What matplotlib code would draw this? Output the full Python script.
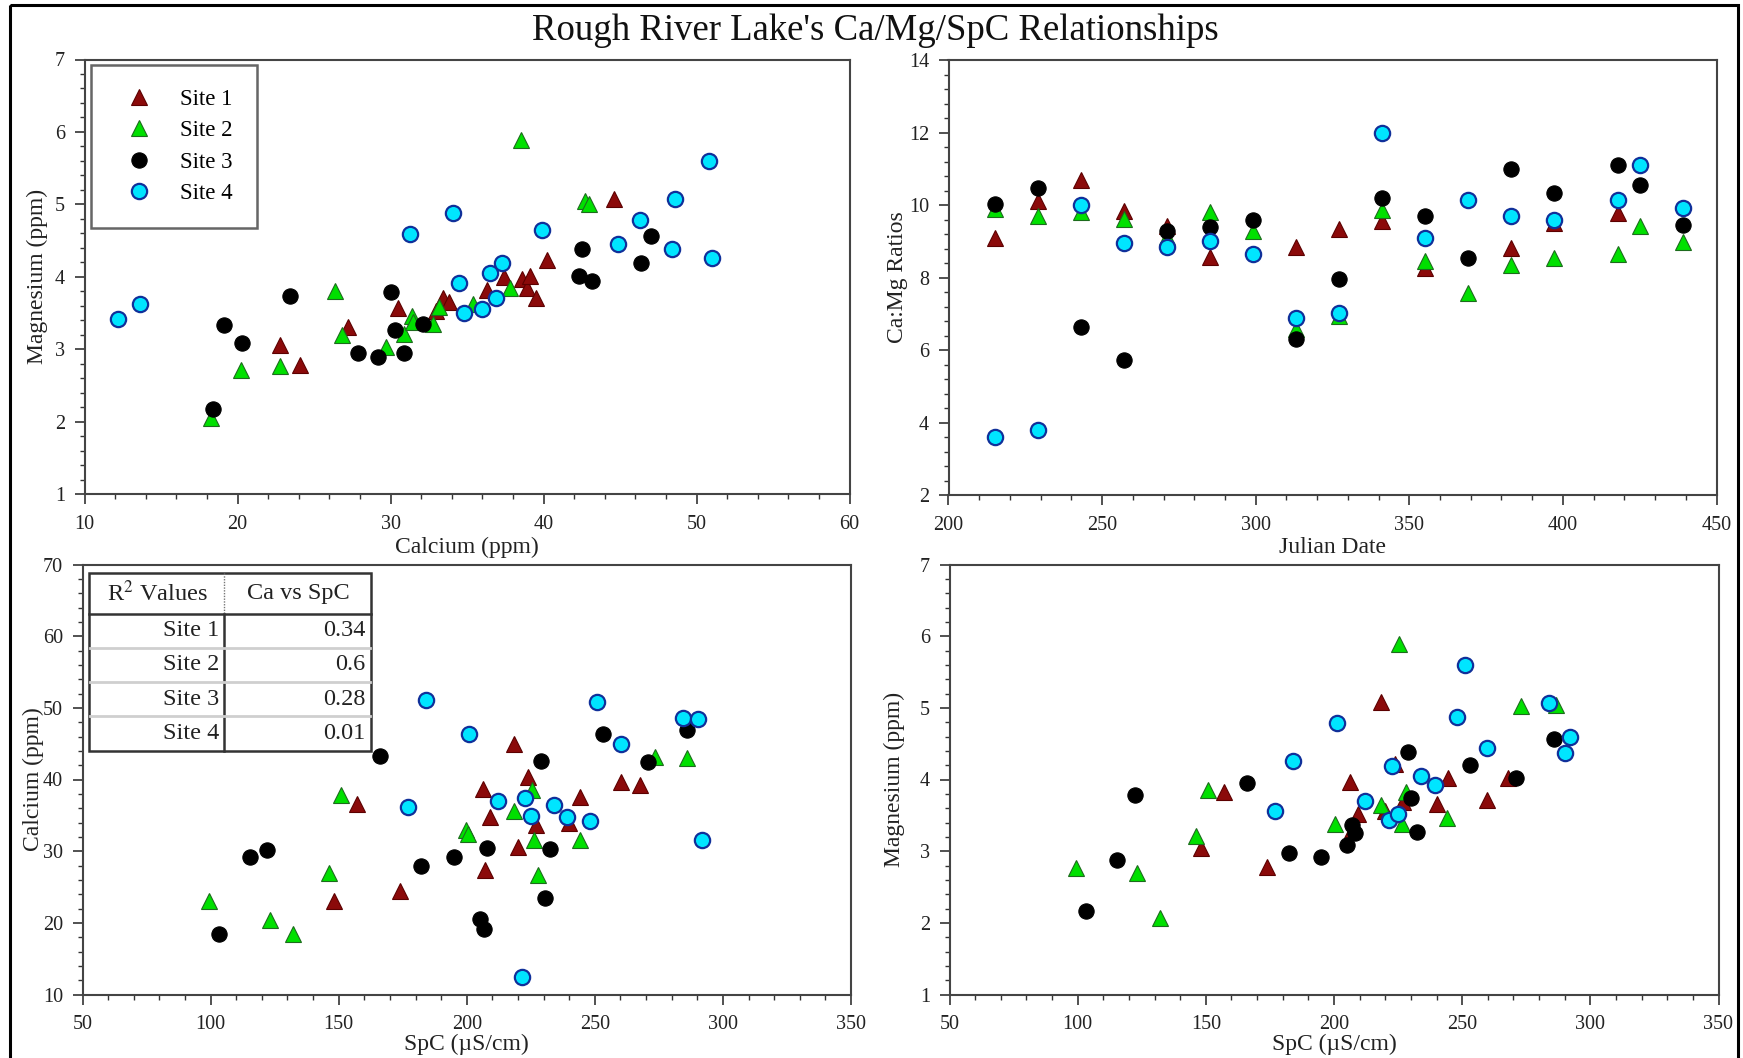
import matplotlib
matplotlib.use("Agg")
import matplotlib.pyplot as plt
from matplotlib.ticker import MultipleLocator
from matplotlib.patches import Rectangle
from matplotlib.lines import Line2D

plt.rcParams['font.family'] = ['Liberation Serif', 'DejaVu Serif']
plt.rcParams['mathtext.fontset'] = 'stix'

# ---- Magnesium vs Calcium ----
mgca_s1_ca = [22.8, 24.1, 27.2, 30.5, 33.0, 33.4, 33.8, 36.3, 37.4, 38.6, 38.9, 39.1, 39.5, 40.2, 44.6]
mgca_s1_mg = [3.06, 2.78, 3.31, 3.57, 3.53, 3.70, 3.65, 3.82, 4.00, 3.97, 3.84, 4.01, 3.71, 4.23, 5.08]
mgca_s2_ca = [18.3, 20.2, 22.8, 26.4, 26.8, 29.7, 30.9, 31.4, 31.5, 32.8, 33.2, 35.4, 37.8, 38.5, 42.7, 43.0]
mgca_s2_mg = [2.05, 2.71, 2.77, 3.81, 3.19, 3.03, 3.21, 3.46, 3.37, 3.35, 3.58, 3.63, 3.84, 5.89, 5.04, 5.00]
mgca_s3_ca = [18.4, 19.1, 20.3, 23.4, 27.9, 29.2, 30.0, 30.3, 30.9, 32.1, 42.3, 42.5, 43.2, 46.4, 47.0]
mgca_s3_mg = [2.17, 3.34, 3.08, 3.74, 2.95, 2.89, 3.79, 3.26, 2.95, 3.35, 4.01, 4.39, 3.94, 4.19, 4.56]
mgca_s4_ca = [12.2, 13.6, 31.3, 34.1, 34.5, 34.8, 36.0, 36.5, 36.9, 37.3, 39.9, 44.9, 46.3, 48.4, 48.6, 50.8, 51.0]
mgca_s4_mg = [3.42, 3.62, 4.59, 4.88, 3.92, 3.50, 3.56, 4.05, 3.70, 4.19, 4.64, 4.45, 4.79, 4.38, 5.07, 5.60, 4.26]

# ---- Ca:Mg ratio vs Julian date ----
ratio_s1_day = [215, 229, 243, 257, 271, 285, 313, 327, 341, 355, 383, 397, 418]
ratio_s1 = [9.10, 10.12, 10.70, 9.83, 9.43, 8.57, 8.83, 9.34, 9.55, 8.25, 8.81, 9.50, 9.79]
julian_days = [215, 229, 243, 257, 271, 285, 299, 313, 327, 341, 355, 369, 383, 397, 418, 425, 439]
ratio_s2 = [9.90, 9.69, 9.80, 9.62, 9.13, 9.80, 9.29, 6.57, 6.95, 9.86, 8.46, 7.56, 8.34, 8.55, 8.65, 9.41, 8.97]
ratio_s3 = [10.02, 10.48, 6.63, 5.73, 9.29, 9.38, 9.58, 6.29, 7.96, 10.19, 9.71, 8.54, 10.98, 10.33, 11.09, 10.55, 9.46]
ratio_s4 = [3.59, 3.79, 9.99, 8.95, 8.83, 9.02, 8.65, 6.87, 7.03, 12.00, 9.08, 10.15, 9.69, 9.60, 10.14, 11.11, 9.93]

# ---- Calcium vs SpC ----
caspc_s1_spc = [148.3, 157.2, 174.1, 206.4, 207.2, 209.0, 218.3, 220.2, 224.1, 227.2, 240.0, 244.3, 260.1, 267.7]
caspc_s1_ca = [23.1, 36.6, 24.4, 38.7, 27.4, 34.8, 44.9, 30.6, 40.4, 33.6, 33.9, 37.5, 39.7, 39.3]
caspc_s2_spc = [99.2, 123.2, 132.3, 146.4, 151.1, 199.9, 200.6, 218.3, 225.4, 226.3, 228.0, 244.3, 273.5, 286.1]
caspc_s2_ca = [23.1, 20.4, 18.5, 27.0, 37.9, 33.0, 32.4, 35.6, 38.6, 31.6, 26.7, 31.6, 43.2, 43.0]
caspc_s3_spc = [103.3, 115.2, 122.1, 166.1, 182.3, 195.1, 205.1, 206.8, 208.1, 229.1, 232.4, 230.4, 253.2, 270.9, 286.1]
caspc_s3_ca = [18.5, 29.2, 30.1, 43.3, 28.0, 29.2, 20.6, 19.1, 30.5, 42.6, 30.3, 23.5, 46.4, 42.4, 46.9]
caspc_s4_spc = [184.1, 201.0, 177.1, 212.2, 222.6, 225.2, 233.9, 239.3, 248.2, 251.0, 260.1, 284.3, 290.2, 291.9, 221.5]
caspc_s4_ca = [51.1, 46.3, 36.1, 37.0, 37.4, 34.9, 36.5, 34.7, 34.2, 50.8, 45.0, 48.6, 48.5, 31.5, 12.4]

# ---- Magnesium vs SpC ----
mgspc_s1_spc = [148.2, 157.1, 174.0, 206.2, 207.2, 209.2, 218.2, 219.9, 223.8, 227.1, 240.1, 244.4, 259.6, 267.7]
mgspc_s1_mg = [3.05, 3.82, 2.78, 3.97, 3.30, 3.52, 5.08, 3.56, 4.22, 3.69, 3.66, 4.02, 3.72, 4.02]
mgspc_s2_spc = [99.3, 123.2, 132.1, 146.2, 151.0, 200.3, 218.4, 225.3, 226.4, 228.1, 244.2, 273.1, 286.6]
mgspc_s2_mg = [2.76, 2.70, 2.07, 3.21, 3.85, 3.38, 3.65, 5.89, 3.38, 3.82, 3.46, 5.02, 5.04]
mgspc_s3_spc = [103.2, 115.2, 122.3, 166.2, 182.3, 195.1, 205.1, 206.9, 208.2, 229.0, 229.9, 232.3, 252.9, 270.9, 285.7]
mgspc_s3_mg = [2.17, 2.88, 3.79, 3.95, 2.97, 2.92, 3.09, 3.37, 3.25, 4.39, 3.74, 3.27, 4.20, 4.02, 4.56]
mgspc_s4_spc = [177.1, 184.0, 201.0, 211.9, 221.4, 222.7, 225.1, 234.0, 239.4, 248.1, 251.2, 259.6, 284.0, 290.0, 292.1]
mgspc_s4_mg = [3.56, 4.26, 4.79, 3.70, 3.43, 4.19, 3.52, 4.05, 3.92, 4.87, 5.60, 4.44, 5.07, 4.37, 4.60]

# R^2 table
r2_sites = ['Site 1', 'Site 2', 'Site 3', 'Site 4']
r2_values = ['0.34', '0.6', '0.28', '0.01']

site_labels = ['Site 1', 'Site 2', 'Site 3', 'Site 4']
site_style = [
    dict(marker='^', mfc='#8b0a0a', mec='#5c0000', ms=11, mew=0.8),
    dict(marker='^', mfc='#00e000', mec='#1d6b1d', ms=11, mew=0.8),
    dict(marker='o', mfc='#000000', mec='#000000', ms=11, mew=0.8),
    dict(marker='o', mfc='#00e5ff', mec='#10309a', ms=11, mew=1.6),
]

W, H = 1743, 1058
fig = plt.figure(figsize=(W / 100, H / 100), dpi=100)


def px_axes(left, top, right, bottom):
    return fig.add_axes([left / W, 1 - bottom / H, (right - left) / W, (bottom - top) / H])


def style_axes(ax, xlim, ylim, xmaj, xmin, ymaj, ymin, xlabel, ylabel, xl_y, yl_x):
    ax.set_xlim(*xlim)
    ax.set_ylim(*ylim)
    ax.xaxis.set_major_locator(MultipleLocator(xmaj))
    ax.xaxis.set_minor_locator(MultipleLocator(xmin))
    ax.yaxis.set_major_locator(MultipleLocator(ymaj))
    ax.yaxis.set_minor_locator(MultipleLocator(ymin))
    ax.tick_params(which='both', direction='out', top=False, right=False,
                   colors='#333333', labelcolor='#222222', labelsize=14.5)
    ax.tick_params(which='major', length=7, width=1.2)
    ax.tick_params(which='minor', length=3.5, width=1.0)
    ax.tick_params(axis='x', pad=8)
    ax.tick_params(axis='y', pad=7)
    for sp in ax.spines.values():
        sp.set_color('#444444')
        sp.set_linewidth(1.5)
    ax.set_xlabel(xlabel, fontsize=17, va='center', color='#222222')
    ax.set_ylabel(ylabel, fontsize=17, va='center', color='#222222')
    ax.xaxis.set_label_coords(0.5, xl_y)
    ax.yaxis.set_label_coords(yl_x, 0.5)


def draw_sites(ax, xs, ys, with_labels=False):
    for i in range(4):
        ax.plot(xs[i], ys[i], linestyle='none', label=site_labels[i] if with_labels else None,
                **site_style[i])


# top-left: Mg vs Ca
ax1 = px_axes(84.5, 59.5, 849.5, 494)
draw_sites(ax1, [mgca_s1_ca, mgca_s2_ca, mgca_s3_ca, mgca_s4_ca],
           [mgca_s1_mg, mgca_s2_mg, mgca_s3_mg, mgca_s4_mg], with_labels=True)
style_axes(ax1, (10, 60), (1, 7), 10, 2, 1, 0.2, 'Calcium (ppm)', 'Magnesium (ppm)', -0.124, -0.062)
leg = ax1.legend(loc='upper left', bbox_to_anchor=(6.5 / 765, 1 - 5.5 / 434.5), frameon=True,
                 fancybox=False, edgecolor='#404040', fontsize=16.5, borderpad=1.05,
                 labelspacing=0.45, handlelength=2.1, handletextpad=0.75, borderaxespad=0)
leg.get_frame().set_linewidth(1.8)

# top-right: Ca:Mg ratio vs Julian date
ax2 = px_axes(948.5, 60, 1716.5, 495)
draw_sites(ax2, [ratio_s1_day, julian_days, julian_days, julian_days],
           [ratio_s1, ratio_s2, ratio_s3, ratio_s4])
style_axes(ax2, (200, 450), (2, 14), 50, 10, 2, 0.4, 'Julian Date', 'Ca:Mg Ratios', -0.12, -0.067)

# bottom-left: Ca vs SpC
ax3 = px_axes(82.5, 564.5, 851, 994.5)
draw_sites(ax3, [caspc_s1_spc, caspc_s2_spc, caspc_s3_spc, caspc_s4_spc],
           [caspc_s1_ca, caspc_s2_ca, caspc_s3_ca, caspc_s4_ca])
style_axes(ax3, (50, 350), (10, 70), 50, 10, 10, 2, 'SpC (\u00b5S/cm)', 'Calcium (ppm)', -0.117, -0.064)

# bottom-right: Mg vs SpC
ax4 = px_axes(949.5, 564.5, 1718.5, 994.5)
draw_sites(ax4, [mgspc_s1_spc, mgspc_s2_spc, mgspc_s3_spc, mgspc_s4_spc],
           [mgspc_s1_mg, mgspc_s2_mg, mgspc_s3_mg, mgspc_s4_mg])
style_axes(ax4, (50, 350), (1, 7), 50, 10, 1, 0.2, 'SpC (\u00b5S/cm)', 'Magnesium (ppm)', -0.117, -0.071)

# overlay in pixel coordinates for the title, frame and R^2 table
ov = fig.add_axes([0, 0, 1, 1], zorder=10)
ov.set_xlim(0, W)
ov.set_ylim(H, 0)
ov.axis('off')
ov.patch.set_alpha(0)

ov.text(875, 31, "Rough River Lake's Ca/Mg/SpC Relationships", fontsize=26.5,
        ha='center', va='center', color='#111111')
ov.add_patch(Rectangle((10, 5), 1728, 1070, fill=False, edgecolor='black', linewidth=2.2,
                       clip_on=False))

# R^2 table
tx0, tx1, tcol = 89.5, 371.5, 224.5
ty0, ty1, thead = 572.5, 750.5, 613.5
ov.add_patch(Rectangle((tx0, ty0), tx1 - tx0, ty1 - ty0, facecolor='white',
                       edgecolor='#333333', linewidth=1.8))
ov.add_line(Line2D([tx0, tx1], [thead, thead], color='#333333', lw=1.8))
ov.add_line(Line2D([tcol, tcol], [ty0, thead], color='#777777', lw=1.0, ls=(0, (1, 1))))
ov.add_line(Line2D([tcol, tcol], [thead, ty1], color='#333333', lw=1.8))
row_h = (ty1 - thead) / len(r2_sites)
for i in range(1, len(r2_sites)):
    yy = thead + i * row_h
    ov.add_line(Line2D([tx0 + 1, tx1 - 1], [yy, yy], color='#cfcfcf', lw=2.0))
ov.text((tx0 + tcol) / 2, (ty0 + thead) / 2, 'R$^{2}$ Values', fontsize=17.5,
        ha='center', va='center', color='#222222')
ov.text((tcol + tx1) / 2, (ty0 + thead) / 2, 'Ca vs SpC', fontsize=17.5,
        ha='center', va='center', color='#222222')
for i, (s, v) in enumerate(zip(r2_sites, r2_values)):
    yc = thead + (i + 0.5) * row_h
    ov.text(tcol - 5, yc, s, fontsize=17.5, ha='right', va='center', color='#222222')
    ov.text(tx1 - 6, yc, v, fontsize=17.5, ha='right', va='center', color='#222222')

fig.savefig('out.png', dpi=100)
